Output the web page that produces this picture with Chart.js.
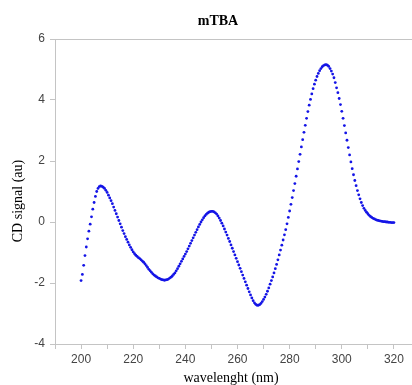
<!DOCTYPE html>
<html>
<head>
<meta charset="utf-8">
<script src="https://cdn.jsdelivr.net/npm/chart.js@4"></script>
<style>
  body{margin:0;background:#fff}
  #wrap{width:412px;height:385px;position:relative}
</style>
</head>
<body>
<div id="wrap"><canvas id="c"></canvas></div>
<script>
// wavelength (nm), one row per 10 nm
const wavelengths = [
  200,200.5,201,201.5,202,202.5,203,203.5,204,204.5,205,205.5,206,206.5,207,207.5,208,208.5,209,209.5,
  210,210.5,211,211.5,212,212.5,213,213.5,214,214.5,215,215.5,216,216.5,217,217.5,218,218.5,219,219.5,
  220,220.5,221,221.5,222,222.5,223,223.5,224,224.5,225,225.5,226,226.5,227,227.5,228,228.5,229,229.5,
  230,230.5,231,231.5,232,232.5,233,233.5,234,234.5,235,235.5,236,236.5,237,237.5,238,238.5,239,239.5,
  240,240.5,241,241.5,242,242.5,243,243.5,244,244.5,245,245.5,246,246.5,247,247.5,248,248.5,249,249.5,
  250,250.5,251,251.5,252,252.5,253,253.5,254,254.5,255,255.5,256,256.5,257,257.5,258,258.5,259,259.5,
  260,260.5,261,261.5,262,262.5,263,263.5,264,264.5,265,265.5,266,266.5,267,267.5,268,268.5,269,269.5,
  270,270.5,271,271.5,272,272.5,273,273.5,274,274.5,275,275.5,276,276.5,277,277.5,278,278.5,279,279.5,
  280,280.5,281,281.5,282,282.5,283,283.5,284,284.5,285,285.5,286,286.5,287,287.5,288,288.5,289,289.5,
  290,290.5,291,291.5,292,292.5,293,293.5,294,294.5,295,295.5,296,296.5,297,297.5,298,298.5,299,299.5,
  300,300.5,301,301.5,302,302.5,303,303.5,304,304.5,305,305.5,306,306.5,307,307.5,308,308.5,309,309.5,
  310,310.5,311,311.5,312,312.5,313,313.5,314,314.5,315,315.5,316,316.5,317,317.5,318,318.5,319,319.5,
  320
];

// CD signal (au)
const cdSignal = [
  -1.92,-1.72,-1.42,-1.10,-0.82,-0.55,-0.30,-0.07,0.17,0.42,0.64,0.84,1.00,1.10,1.16,1.18,1.17,1.14,1.10,1.04,
  0.97,0.88,0.79,0.70,0.60,0.49,0.38,0.27,0.16,0.05,-0.06,-0.17,-0.28,-0.38,-0.48,-0.57,-0.66,-0.75,-0.83,-0.91,
  -0.98,-1.04,-1.09,-1.13,-1.17,-1.20,-1.24,-1.28,-1.32,-1.37,-1.43,-1.49,-1.55,-1.60,-1.65,-1.70,-1.74,-1.77,-1.80,-1.83,
  -1.85,-1.87,-1.89,-1.90,-1.91,-1.90,-1.89,-1.87,-1.84,-1.81,-1.77,-1.72,-1.67,-1.60,-1.53,-1.45,-1.37,-1.29,-1.21,-1.13,
  -1.05,-0.97,-0.88,-0.79,-0.70,-0.61,-0.52,-0.43,-0.34,-0.25,-0.16,-0.08,0.00,0.07,0.14,0.20,0.25,0.29,0.32,0.34,
  0.35,0.35,0.33,0.30,0.26,0.20,0.13,0.05,-0.04,-0.13,-0.23,-0.33,-0.43,-0.54,-0.64,-0.75,-0.86,-0.97,-1.08,-1.19,
  -1.30,-1.41,-1.52,-1.63,-1.74,-1.85,-1.96,-2.07,-2.18,-2.29,-2.39,-2.49,-2.58,-2.65,-2.70,-2.73,-2.73,-2.71,-2.67,-2.61,
  -2.54,-2.46,-2.37,-2.27,-2.16,-2.04,-1.92,-1.80,-1.67,-1.53,-1.39,-1.24,-1.08,-0.92,-0.76,-0.59,-0.42,-0.25,-0.06,0.15,
  0.36,0.58,0.80,1.03,1.26,1.50,1.74,1.98,2.22,2.46,2.70,2.94,3.17,3.40,3.62,3.83,4.02,4.20,4.37,4.52,
  4.65,4.77,4.87,4.96,5.03,5.09,5.13,5.15,5.16,5.14,5.10,5.03,4.95,4.85,4.73,4.57,4.40,4.24,4.05,3.85,
  3.63,3.40,3.16,2.92,2.68,2.44,2.20,1.97,1.75,1.55,1.36,1.19,1.03,0.89,0.76,0.64,0.54,0.45,0.38,0.32,
  0.27,0.22,0.18,0.15,0.12,0.10,0.08,0.06,0.05,0.04,0.03,0.02,0.01,0.01,0.00,0.00,-0.01,-0.01,-0.02,-0.02,
  -0.02
];

const yTicks = [-4,-2,0,2,4,6];

const chartTitle = "mTBA";
const xTitle = "wavelenght (nm)";
const yTitle = "CD signal (au)";

// top frame line + titles (serif, placed like the original)
const decor = {
  id: "decor",
  afterDraw(chart){
    const ctx = chart.ctx, a = chart.chartArea;
    ctx.save();
    ctx.strokeStyle = "#c4c4c4";
    ctx.lineWidth = 1;
    ctx.beginPath();
    ctx.moveTo(a.left, a.top + 0.5);
    ctx.lineTo(chart.width, a.top + 0.5);
    // the original plot runs off the right edge, so carry the bottom line on too
    ctx.moveTo(a.right - 1, Math.round(a.bottom) + 0.5);
    ctx.lineTo(chart.width, Math.round(a.bottom) + 0.5);
    ctx.stroke();

    ctx.fillStyle = "#000";
    ctx.textAlign = "center";
    ctx.textBaseline = "middle";
    ctx.font = "bold 14px 'Liberation Serif', serif";
    ctx.fillText(chartTitle, 218, 21);

    ctx.font = "14px 'Liberation Serif', serif";
    ctx.fillText(xTitle, 231, 378);

    ctx.translate(18, 201);
    ctx.rotate(-Math.PI/2);
    ctx.fillText(yTitle, 0, 0);
    ctx.restore();
  }
};

new Chart(document.getElementById("c"), {
  type: "scatter",
  data: {
    datasets: [{
      data: wavelengths.map((w, i) => ({x: w, y: cdSignal[i]})),
      backgroundColor: "#1414e6",
      borderColor: "#1414e6",
      pointRadius: 1.4,
      pointBorderWidth: 0,
      showLine: false
    }]
  },
  options: {
    responsive: true,
    maintainAspectRatio: false,
    animation: false,
    layout: { padding: {top: 39, left: 0, right: 0, bottom: 0} },
    plugins: {
      legend: {display: false},
      tooltip: {enabled: false}
    },
    scales: {
      x: {
        type: "linear",
        min: 190,
        max: 325.4,
        afterFit(s){ s.height = 41; s.paddingLeft = 0; s.paddingRight = 0; },
        border: {color: "#c4c4c4"},
        grid: {drawOnChartArea: false, color: "#c4c4c4", tickLength: 5},
        ticks: {
          stepSize: 10,
          includeBounds: false,
          autoSkip: false,
          maxRotation: 0,
          padding: 3,
          color: "#444",
          font: {family: "'Liberation Sans', Arial, sans-serif", size: 12},
          callback: v => (v % 20 === 0 && v >= 200) ? v : ""
        }
      },
      y: {
        min: -4,
        max: 6,
        afterFit(s){ s.width = 55; s.paddingTop = 0; s.paddingBottom = 0; },
        afterBuildTicks(s){ s.ticks = yTicks.map(v => ({value: v})); },
        border: {color: "#c4c4c4"},
        grid: {drawOnChartArea: false, color: "#c4c4c4", tickLength: 5},
        ticks: {
          padding: 5,
          color: "#444",
          font: {family: "'Liberation Sans', Arial, sans-serif", size: 12}
        }
      }
    }
  },
  plugins: [decor]
});
</script>
</body>
</html>
